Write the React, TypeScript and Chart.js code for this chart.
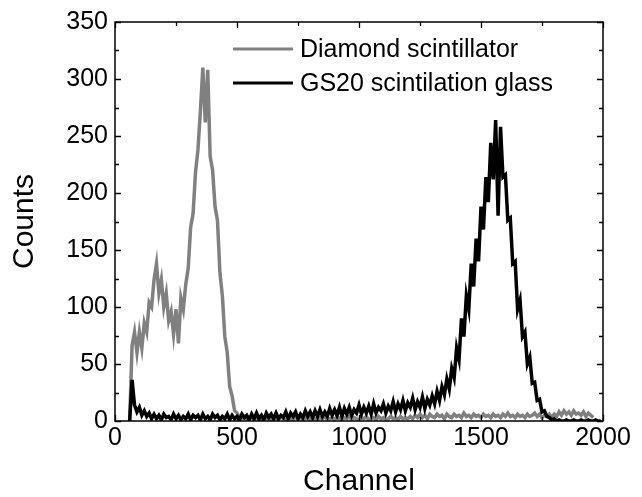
import React, { useEffect, useRef } from "react";
import { Chart, registerables } from "chart.js";

Chart.register(...registerables);

// Channel axis positions (shared by both series)
const CHANNELS = [
  60, 70, 80, 90, 100, 110, 120, 130, 140, 150,
  160, 170, 180, 190, 200, 210, 220, 230, 240, 250,
  260, 270, 280, 290, 300, 310, 320, 330, 340, 350,
  360, 370, 380, 390, 400, 410, 420, 430, 440, 450,
  460, 470, 480, 490, 500, 510, 520, 530, 540, 550,
  560, 570, 580, 590, 600, 610, 620, 630, 640, 650,
  660, 670, 680, 690, 700, 710, 720, 730, 740, 750,
  760, 770, 780, 790, 800, 810, 820, 830, 840, 850,
  860, 870, 880, 890, 900, 910, 920, 930, 940, 950,
  960, 970, 980, 990, 1000, 1010, 1020, 1030, 1040, 1050,
  1060, 1070, 1080, 1090, 1100, 1110, 1120, 1130, 1140, 1150,
  1160, 1170, 1180, 1190, 1200, 1210, 1220, 1230, 1240, 1250,
  1260, 1270, 1280, 1290, 1300, 1310, 1320, 1330, 1340, 1350,
  1360, 1370, 1380, 1390, 1400, 1410, 1420, 1430, 1440, 1450,
  1460, 1470, 1480, 1490, 1500, 1510, 1520, 1530, 1540, 1550,
  1560, 1570, 1580, 1590, 1600, 1610, 1620, 1630, 1640, 1650,
  1660, 1670, 1680, 1690, 1700, 1710, 1720, 1730, 1740, 1750,
  1760, 1770, 1780, 1790, 1800, 1810, 1820, 1830, 1840, 1850,
  1860, 1870, 1880, 1890, 1900, 1910, 1920, 1930, 1940, 1950,
  1960, 1970, 1980, 1990,
];

// Diamond scintillator counts
const DIAMOND = [
  0, 66, 78, 60, 78, 64, 86, 78, 104, 100,
  124, 138, 112, 124, 100, 112, 88, 96, 76, 98,
  68, 108, 98, 120, 134, 170, 182, 218, 238, 272,
  310, 262, 308, 232, 220, 188, 176, 130, 110, 74,
  60, 30, 22, 9, 7, 3, 2, 3, 1, 2,
  4, 1, 3, 2, 1, 3, 2, 4, 1, 2,
  3, 1, 4, 2, 1, 3, 2, 1, 4, 2,
  3, 1, 2, 4, 1, 3, 2, 1, 3, 2,
  4, 1, 2, 3, 1, 4, 2, 1, 3, 2,
  4, 1, 3, 2, 1, 3, 2, 4, 1, 2,
  3, 1, 4, 2, 3, 1, 2, 4, 2, 3,
  1, 4, 2, 3, 2, 4, 2, 5, 3, 6,
  3, 5, 2, 6, 4, 3, 6, 4, 5, 2,
  6, 4, 3, 6, 4, 5, 3, 7, 4, 5,
  3, 6, 4, 5, 3, 6, 4, 5, 3, 6,
  4, 5, 3, 6, 4, 7, 4, 5, 3, 6,
  4, 5, 3, 6, 4, 5, 7, 4, 6, 3,
  5, 4, 6, 3, 6, 4, 8, 5, 9, 6,
  8, 5, 9, 6, 7, 5, 8, 4, 7, 5,
  3, null, null, null,
];

// GS20 scintillation glass counts
const GS20 = [
  0, 36, 14, 8, 12, 5, 9, 4, 7, 2,
  6, 2, 5, 1, 6, 3, 4, 1, 6, 2,
  5, 1, 4, 2, 6, 1, 5, 3, 5, 1,
  6, 2, 4, 1, 6, 3, 5, 1, 4, 2,
  6, 1, 5, 2, 4, 1, 6, 3, 5, 1,
  6, 2, 7, 2, 5, 1, 7, 3, 6, 2,
  7, 2, 5, 3, 8, 2, 7, 4, 8, 2,
  6, 3, 9, 4, 8, 3, 9, 4, 10, 4,
  8, 4, 11, 5, 10, 5, 12, 4, 11, 6,
  12, 5, 10, 7, 14, 6, 12, 7, 13, 6,
  15, 7, 12, 9, 15, 7, 13, 9, 17, 8,
  15, 10, 18, 9, 16, 12, 20, 10, 17, 12,
  21, 11, 19, 14, 22, 15, 26, 18, 30, 23,
  37, 28, 46, 38, 64, 54, 90, 74, 110, 98,
  138, 118, 160, 140, 188, 168, 214, 192, 244, 212,
  264, 180, 258, 214, 216, 176, 178, 138, 140, 98,
  106, 74, 78, 50, 56, 33, 34, 18, 19, 8,
  9, 4, 3, 1, 2, 0, 1, 0, 0, 1,
  0, 0, 1, 0, 0, 1, 0, 0, 1, 0,
  0, 1, 0, 0,
];

const SERIES_NAMES = ["Diamond scintillator", "GS20 scintilation glass"];
const SERIES_COLORS = ["#808080", "#000000"];
const X_TITLE = "Channel";
const Y_TITLE = "Counts";
const X_MIN = 0;
const X_MAX = 2000;
const X_MAJOR = 500;
const X_MINOR = 250;
const Y_MIN = 0;
const Y_MAX = 350;
const Y_MAJOR = 50;
const Y_MINOR = 25;

const FONT = "'Liberation Sans', Arial, sans-serif";

export default function App() {
  const ref = useRef<HTMLCanvasElement>(null);

  useEffect(() => {
    document.body.style.margin = "0";
    const canvas = ref.current;
    if (!canvas) return;

    const decorPlugin = {
      id: "decor",
      afterDraw(chart: any) {
        const { ctx, chartArea: a, scales } = chart;
        const xs = scales.x;
        const ys = scales.y;
        ctx.save();
        ctx.strokeStyle = "#000";
        ctx.lineWidth = 1.5;
        ctx.strokeRect(a.left, a.top, a.right - a.left, a.bottom - a.top);
        ctx.lineWidth = 1.3;
        ctx.beginPath();
        for (let v = X_MIN; v <= X_MAX; v += X_MINOR) {
          const len = v % X_MAJOR === 0 ? 6 : 4;
          const px = Math.round(xs.getPixelForValue(v)) + 0.5;
          ctx.moveTo(px, a.bottom);
          ctx.lineTo(px, a.bottom - len);
          ctx.moveTo(px, a.top);
          ctx.lineTo(px, a.top + len);
        }
        for (let v = Y_MIN; v <= Y_MAX; v += Y_MINOR) {
          const len = v % Y_MAJOR === 0 ? 6 : 4;
          const py = Math.round(ys.getPixelForValue(v)) + 0.5;
          ctx.moveTo(a.left, py);
          ctx.lineTo(a.left + len, py);
          ctx.moveTo(a.right, py);
          ctx.lineTo(a.right - len, py);
        }
        ctx.stroke();
        const rows = [49, 83];
        ctx.font = `25px ${FONT}`;
        ctx.textBaseline = "middle";
        ctx.textAlign = "left";
        SERIES_NAMES.forEach((name, i) => {
          ctx.strokeStyle = SERIES_COLORS[i];
          ctx.lineWidth = 3;
          ctx.beginPath();
          ctx.moveTo(233, rows[i]);
          ctx.lineTo(293, rows[i]);
          ctx.stroke();
          ctx.fillStyle = "#000";
          ctx.fillText(name, 300, rows[i] + 1);
        });
        ctx.restore();
      },
    };

    const chart = new Chart(canvas, {
      type: "line",
      data: {
        datasets: [
          {
            label: SERIES_NAMES[1],
            data: CHANNELS.map((c, i) => ({ x: c, y: GS20[i] })),
            borderColor: SERIES_COLORS[1],
            borderWidth: 3.5,
            pointRadius: 0,
            tension: 0,
            fill: false,
          },
          {
            label: SERIES_NAMES[0],
            data: CHANNELS.map((c, i) => ({ x: c, y: DIAMOND[i] })),
            borderColor: SERIES_COLORS[0],
            borderWidth: 3.5,
            pointRadius: 0,
            tension: 0,
            fill: false,
            spanGaps: false,
          },
        ],
      },
      options: {
        animation: false,
        responsive: false,
        devicePixelRatio: 1,
        layout: { padding: { left: 0, right: 39, top: 19, bottom: 0 } },
        plugins: {
          legend: { display: false },
          tooltip: { enabled: false },
        },
        scales: {
          x: {
            type: "linear",
            min: X_MIN,
            max: X_MAX,
            ticks: {
              stepSize: X_MAJOR,
              color: "#000",
              font: { size: 25, family: FONT },
              padding: 2,
              maxRotation: 0,
              autoSkip: false,
              callback: (v: any) => String(v),
            },
            grid: { display: false, drawTicks: false, tickLength: 0 },
            border: { display: false },
            title: {
              display: true,
              text: X_TITLE,
              color: "#000",
              font: { size: 30, family: FONT, lineHeight: 1 },
              padding: { top: 0, bottom: 0 },
            },
            afterFit(s: any) {
              s.height = 76;
            },
          },
          y: {
            type: "linear",
            min: Y_MIN,
            max: Y_MAX,
            ticks: {
              stepSize: Y_MAJOR,
              color: "#000",
              font: { size: 25, family: FONT },
              padding: 7,
              callback: (v: any) => String(v),
            },
            grid: { display: false, drawTicks: false, tickLength: 0 },
            border: { display: false },
            title: {
              display: true,
              text: Y_TITLE,
              color: "#000",
              font: { size: 30, family: FONT, lineHeight: 1 },
              padding: { top: 10, bottom: 0 },
            },
            afterFit(s: any) {
              s.width = 115;
            },
          },
        },
      },
      plugins: [decorPlugin],
    });

    return () => chart.destroy();
  }, []);

  return (
    <div style={{ width: 642, height: 497 }}>
      <canvas ref={ref} width={642} height={497} style={{ display: "block" }} />
    </div>
  );
}
